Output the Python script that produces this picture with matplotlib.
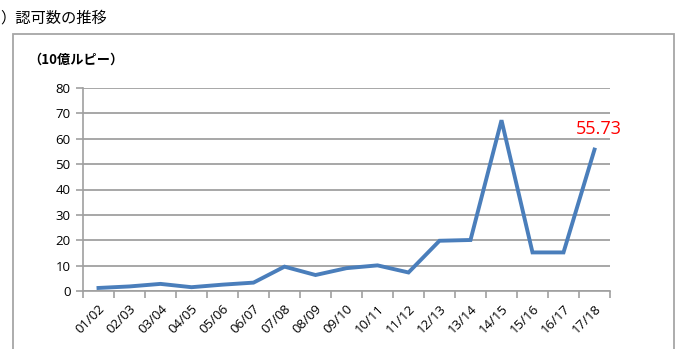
import matplotlib
matplotlib.use('Agg')
import matplotlib.pyplot as plt
from matplotlib.patches import Rectangle
from matplotlib.ticker import FixedLocator

plt.rcParams['font.family'] = ['Open Sans', 'Noto Sans CJK JP', 'DejaVu Sans']

years = ['01/02', '02/03', '03/04', '04/05', '05/06', '06/07', '07/08', '08/09',
         '09/10', '10/11', '11/12', '12/13', '13/14', '14/15', '15/16', '16/17', '17/18']
values = [1.2, 1.8, 2.8, 1.5, 2.5, 3.3, 9.6, 6.3, 9.0, 10.1, 7.3, 19.8, 20.1, 67.3,
          15.2, 15.2, 55.73]
title = '）認可数の推移'
unit = '（10億ルピー）'
last_label = '55.73'

fig = plt.figure(figsize=(6.88, 3.49), dpi=100)
W, H = 688, 349

# outer chart frame
fig.patches.append(Rectangle((13 / W, -0.05), (674 - 13) / W, 1.05 - 34 / H,
                             transform=fig.transFigure, fill=False,
                             edgecolor='#a6a6a6', linewidth=1.3))

ax = fig.add_axes([83 / W, 1 - 291 / H, (610 - 83) / W, (291 - 88) / H])
x = list(range(len(years)))
ax.plot(x, values, color='#4a7ebb', linewidth=2.8, solid_joinstyle='miter')
ax.text(x[-1] + 0.15, 60.3, last_label, color='#ff0000', fontsize=13,
        ha='center', va='bottom')

ax.set_xlim(-0.5, len(years) - 0.5)
ax.set_ylim(0, 80)
ax.set_yticks(range(0, 81, 10))
ax.yaxis.grid(True, color='#a0a0a0', linewidth=1.3)
ax.set_axisbelow(True)
ax.set_xticks(x)
ax.set_xticklabels(years, rotation=45, ha='right', rotation_mode='anchor',
                   fontsize=9.5)
ax.xaxis.set_minor_locator(FixedLocator([i - 0.5 for i in range(len(years) + 1)]))
ax.tick_params(axis='x', which='major', length=0, pad=8)
ax.tick_params(axis='x', which='minor', length=5, color='#a0a0a0', width=1.2)
ax.tick_params(axis='y', length=5, color='#a0a0a0', width=1.2, labelsize=9.5, pad=4)
for s in ['top', 'right']:
    ax.spines[s].set_visible(False)
for s in ['left', 'bottom']:
    ax.spines[s].set_color('#a0a0a0')
    ax.spines[s].set_linewidth(1.2)

fig.text(0 / W, 1 - 18 / H, title, fontsize=11, ha='left', va='center',
         family=['Noto Sans CJK JP', 'DejaVu Sans'])
fig.text(28 / W, 1 - 60 / H, unit, fontsize=9.5, ha='left', va='center',
         fontweight='bold', family=['Noto Sans CJK JP', 'DejaVu Sans'])

fig.savefig('out.png', dpi=100)
